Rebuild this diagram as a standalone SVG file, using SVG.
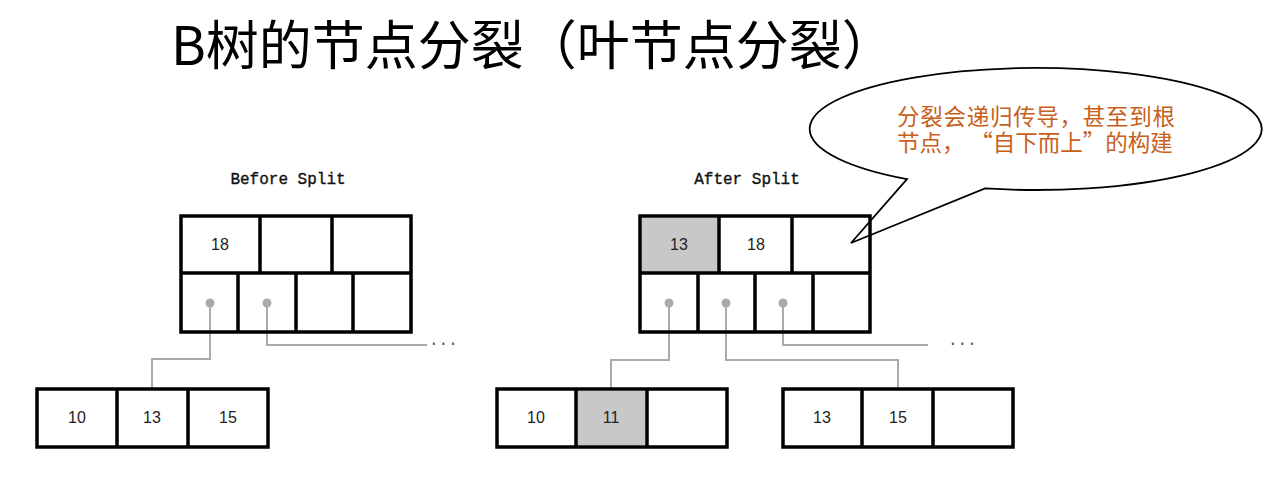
<svg xmlns="http://www.w3.org/2000/svg" width="1271" height="477" viewBox="0 0 1271 477">
<style>
.box{fill:none;stroke:#000;stroke-width:3.5}
.grey{fill:#c8c8c8}
.div{stroke:#000;stroke-width:3.5;fill:none}
.num{font-family:"Liberation Sans",Arial,sans-serif;font-size:16px;fill:#222;text-anchor:middle}
.lbl{font-family:"Liberation Mono","DejaVu Sans Mono",monospace;font-size:16px;fill:#111;stroke:#111;stroke-width:0.35;text-anchor:middle}
.conn{stroke:#aaa;stroke-width:2;fill:none}
.dot{fill:#aaa}
.dots{font-family:"Liberation Mono",monospace;font-size:16px;fill:#555}
.cjk{font-family:"Noto Sans CJK SC","Noto Sans",sans-serif}
</style>
<rect width="1271" height="477" fill="#fff"/>
<text id="title" class="cjk" x="171" y="65" font-size="53" fill="#000">B树的节点分裂（叶节点分裂）</text>

<g id="callout">
<path d="M907,179.1 L851,243 L985,188.4 A226,61 0 1 0 907,179.1 Z" fill="#fff" stroke="#000" stroke-width="1.8"/>
<text class="cjk" font-size="22.5" fill="#C8601A" x="897" y="125" textLength="278">分裂会递归传导，甚至到根</text>
<text class="cjk" font-size="22.5" fill="#C8601A" x="897" y="151">节点，<tspan dx="17">“自下而上”的构建</tspan></text>
</g>

<text id="before-label" class="lbl" x="288" y="184">Before Split</text>
<text id="after-label" class="lbl" x="747" y="184">After Split</text>

<g id="connectors">
<polyline class="conn" points="210,303 210,359 152,359 152,389"/>
<polyline class="conn" points="267,303 267,345 427,345"/>
<polyline class="conn" points="669,303 669,360 611,360 611,389"/>
<polyline class="conn" points="726,303 726,360 898,360 898,389"/>
<polyline class="conn" points="783,303 783,345 928,345"/>
<text class="dots" x="429" y="345">...</text>
<text class="dots" x="948" y="345">...</text>
</g>

<g id="before-root">
<rect class="box" x="181" y="216" width="230" height="116"/>
<path class="div" d="M181,273H411 M260,216V273 M332,216V273 M238,273V332 M296,273V332 M353,273V332"/>
<text class="num" x="220" y="250">18</text>
<circle class="dot" cx="210" cy="303" r="4.5"/>
<circle class="dot" cx="267" cy="303" r="4.5"/>
</g>

<g id="before-leaf">
<rect class="box" x="37" y="389" width="231" height="58"/>
<path class="div" d="M117,389V447 M188,389V447"/>
<text class="num" x="77" y="423">10</text>
<text class="num" x="152" y="423">13</text>
<text class="num" x="228" y="423">15</text>
</g>

<g id="after-root">
<rect class="grey" x="642" y="218" width="77" height="55"/>
<rect class="box" x="640" y="216" width="230" height="116"/>
<path class="div" d="M640,273H870 M719,216V273 M792,216V273 M698,273V332 M755,273V332 M813,273V332"/>
<text class="num" x="679" y="250">13</text>
<text class="num" x="756" y="250">18</text>
<circle class="dot" cx="669" cy="303" r="4.5"/>
<circle class="dot" cx="726" cy="303" r="4.5"/>
<circle class="dot" cx="783" cy="303" r="4.5"/>
</g>

<g id="after-leaf-left">
<rect class="grey" x="576" y="391" width="71" height="54"/>
<rect class="box" x="497" y="389" width="230" height="58"/>
<path class="div" d="M576,389V447 M647,389V447"/>
<text class="num" x="536" y="423">10</text>
<text class="num" x="611" y="423">11</text>
</g>

<g id="after-leaf-right">
<rect class="box" x="783" y="389" width="230" height="58"/>
<path class="div" d="M862,389V447 M933,389V447"/>
<text class="num" x="822" y="423">13</text>
<text class="num" x="898" y="423">15</text>
</g>
</svg>
